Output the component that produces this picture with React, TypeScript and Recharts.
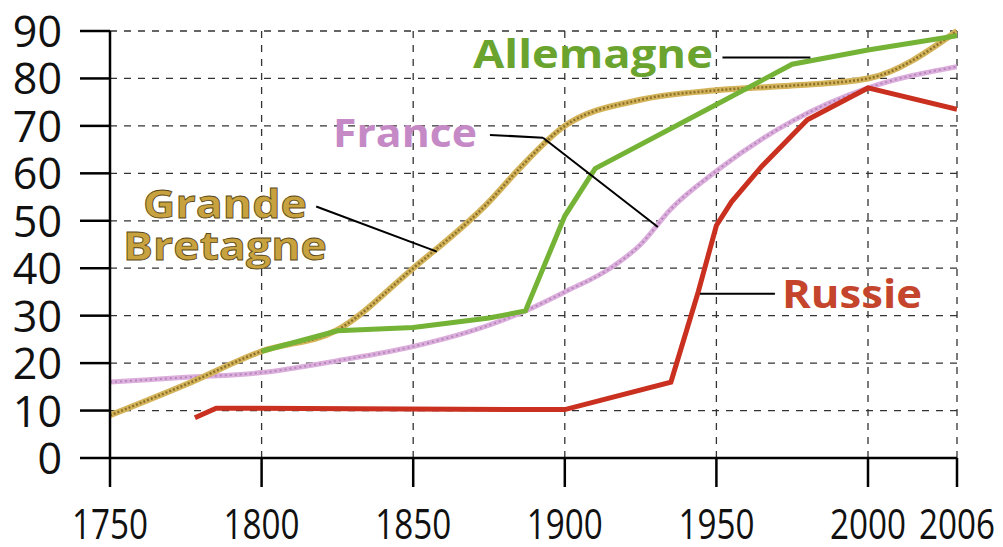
import { LineChart, Line, XAxis, YAxis, CartesianGrid, ReferenceLine } from "recharts";

// years and values
const gbYears = [1750, 1775, 1800, 1825, 1850, 1875, 1885, 1900, 1925, 1950, 1975, 2000, 2006];
const gbValues = [9, 15.5, 22.5, 27, 40, 54, 61, 70, 75.5, 77.5, 78.5, 80, 90];

const deYears = [1800, 1825, 1850, 1875, 1887, 1900, 1910, 1950, 1975, 2000, 2006];
const deValues = [22.5, 26.8, 27.5, 29.5, 31, 51, 61, 74.5, 83, 86, 89];

const frYears = [1750, 1775, 1800, 1825, 1850, 1875, 1887, 1900, 1915, 1925, 1935, 1950, 1975, 2000, 2006];
const frValues = [16, 17, 18, 20.5, 23.5, 28, 31, 35, 40, 45, 52.5, 60.5, 71, 78, 82.5];

const ruYears = [1778, 1785, 1900, 1935, 1944, 1950, 1955, 1965, 1980, 2000, 2006];
const ruValues = [8.5, 10.5, 10.2, 16, 35, 49, 54, 61.5, 71.3, 78, 73.5];

const yearTicks = [1750, 1800, 1850, 1900, 1950, 2000, 2006];
const valueTicks = [0, 10, 20, 30, 40, 50, 60, 70, 80, 90];

// the last interval (2000-2006) is stretched on the original axis
const STRETCH = 89 / 3.032 / 6;
const pos = (year: number) => (year <= 2000 ? year : 2000 + (year - 2000) * STRETCH);
const unpos = (p: number) => (p <= 2000 ? p : Math.round(2000 + (p - 2000) / STRETCH));

const toData = (years: number[], values: number[]) =>
  years.map((y, i) => ({ x: pos(y), v: values[i] }));

const gbData = toData(gbYears, gbValues);
const deData = toData(deYears, deValues);
const frData = toData(frYears, frValues);
const ruData = toData(ruYears, ruValues);

const XTick = (props: any) => {
  const { x, y, payload } = props;
  return (
    <text
      x={x}
      y={y + 52}
      textAnchor="middle"
      fontFamily="Open Sans"
      fontSize={42}
      fill="#111"
      textLength={76}
      lengthAdjust="spacingAndGlyphs"
    >
      {unpos(payload.value)}
    </text>
  );
};

const YTick = (props: any) => {
  const { x, y, payload } = props;
  return (
    <text x={x - 18} y={y + 16} textAnchor="end" fontFamily="Open Sans" fontSize={43} fill="#111">
      {payload.value}
    </text>
  );
};

const labelFont = { fontFamily: "Open Sans", fontWeight: 700, fontSize: 40 } as const;

export default function App() {
  return (
    <div style={{ position: "absolute", left: 0, top: 0, width: 1003, height: 547, background: "#fff" }}>
      <LineChart width={1003} height={547} margin={{ top: 31, right: 46, bottom: 0, left: 30 }}>
        <CartesianGrid stroke="#333" strokeDasharray="7 7" strokeWidth={1.3} />
        <XAxis
          type="number"
          dataKey="x"
          domain={[1750, pos(2006)]}
          ticks={yearTicks.map(pos)}
          interval={0}
          height={89}
          tickSize={29}
          tickMargin={0}
          tick={<XTick />}
          stroke="#000"
          strokeWidth={2.5}
          allowDataOverflow
        />
        <YAxis
          type="number"
          domain={[0, 90]}
          ticks={valueTicks}
          interval={0}
          width={80}
          tickSize={30}
          tickMargin={0}
          tick={<YTick />}
          stroke="#000"
          strokeWidth={2.5}
        />
        <Line data={frData} dataKey="v" type="monotone" stroke="#dcaedc" strokeWidth={5} dot={false} activeDot={false} isAnimationActive={false} />
        <Line data={frData} dataKey="v" type="monotone" stroke="#9a6aa6" strokeWidth={2} strokeDasharray="2 3" strokeOpacity={0.6} dot={false} activeDot={false} isAnimationActive={false} />
        <Line data={gbData} dataKey="v" type="monotone" stroke="#d4b45a" strokeWidth={6} dot={false} activeDot={false} isAnimationActive={false} />
        <Line data={gbData} dataKey="v" type="monotone" stroke="#6e5418" strokeWidth={2.5} strokeDasharray="2 2" strokeOpacity={0.7} dot={false} activeDot={false} isAnimationActive={false} />
        <Line data={deData} dataKey="v" type="linear" stroke="#74b336" strokeWidth={5} dot={false} activeDot={false} isAnimationActive={false} />
        <Line data={ruData} dataKey="v" type="linear" stroke="#c9301f" strokeWidth={5} dot={false} activeDot={false} isAnimationActive={false} />

        <ReferenceLine segment={[{ x: pos(1952), y: 84.4 }, { x: pos(1981), y: 84.4 }]} stroke="#000" strokeWidth={2} />
        <ReferenceLine segment={[{ x: pos(1875.3), y: 68.1 }, { x: pos(1892.8), y: 67.5 }]} stroke="#000" strokeWidth={2} />
        <ReferenceLine segment={[{ x: pos(1892.8), y: 67.5 }, { x: pos(1930.7), y: 48.7 }]} stroke="#000" strokeWidth={2} />
        <ReferenceLine segment={[{ x: pos(1818), y: 53 }, { x: pos(1857.8), y: 43.5 }]} stroke="#000" strokeWidth={2} />
        <ReferenceLine segment={[{ x: pos(1944.6), y: 34.6 }, { x: pos(1969.3), y: 34.6 }]} stroke="#000" strokeWidth={2} />
      </LineChart>

      <svg width={1003} height={547} style={{ position: "absolute", left: 0, top: 0, pointerEvents: "none" }}>
        <text x={473} y={68} {...labelFont} fill="#6aa42e" textLength={240} lengthAdjust="spacingAndGlyphs">Allemagne</text>
        <text x={333} y={147} {...labelFont} fill="#c58ac6" textLength={144} lengthAdjust="spacingAndGlyphs">France</text>
        <text x={143} y={218} {...labelFont} fill="#c8a23e" stroke="#5a4818" strokeWidth={0.8} textLength={164} lengthAdjust="spacingAndGlyphs">Grande</text>
        <text x={123} y={260} {...labelFont} fill="#c8a23e" stroke="#5a4818" strokeWidth={0.8} textLength={204} lengthAdjust="spacingAndGlyphs">Bretagne</text>
        <text x={782} y={308} {...labelFont} fill="#c4452b" textLength={140} lengthAdjust="spacingAndGlyphs">Russie</text>
      </svg>
    </div>
  );
}
